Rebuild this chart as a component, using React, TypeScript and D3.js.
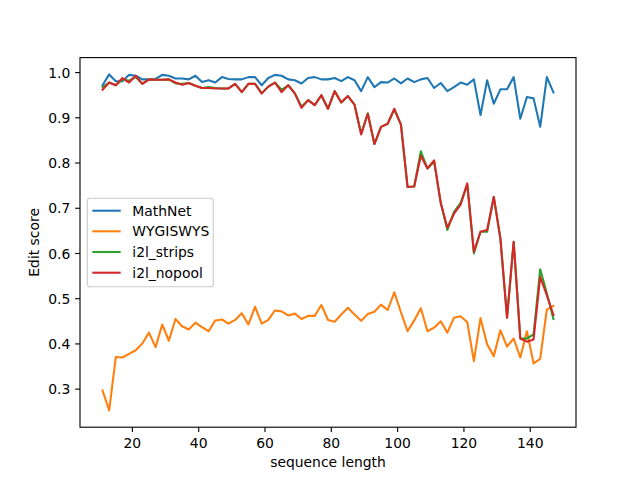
import React, { useEffect } from "react";
import * as d3 from "d3";

// sequence lengths (x)
const seqLen = [
  11, 13, 15, 17, 19, 21, 23, 25, 27, 29, 31, 33, 35, 37, 39, 41, 43, 45, 47,
  49, 51, 53, 55, 57, 59, 61, 63, 65, 67, 69, 71, 73, 75, 77, 79, 81, 83, 85,
  87, 89, 91, 93, 95, 97, 99, 101, 103, 105, 107, 109, 111, 113, 115, 117, 119,
  121, 123, 125, 127, 129, 131, 133, 135, 137, 139, 141, 143, 145, 147,
];

const mathNet = [
  0.972, 0.996, 0.981, 0.981, 0.995, 0.993, 0.985, 0.985, 0.986, 0.995, 0.993,
  0.987, 0.987, 0.985, 0.993, 0.979, 0.983, 0.978, 0.99, 0.986, 0.985, 0.985,
  0.99, 0.99, 0.972, 0.988, 0.995, 0.993, 0.985, 0.983, 0.976, 0.988, 0.99,
  0.985, 0.985, 0.988, 0.981, 0.99, 0.983, 0.959, 0.99, 0.968, 0.979, 0.978,
  0.987, 0.976, 0.987, 0.979, 0.985, 0.988, 0.966, 0.977, 0.959, 0.968, 0.978,
  0.973, 0.985, 0.906, 0.983, 0.931, 0.963, 0.963, 0.99, 0.898, 0.946, 0.943,
  0.88, 0.99, 0.956,
];

const wygiswys = [
  0.297, 0.253, 0.371, 0.37, 0.378, 0.386, 0.401, 0.425, 0.393, 0.443, 0.407,
  0.455, 0.439, 0.432, 0.447, 0.437, 0.428, 0.452, 0.454, 0.445, 0.453, 0.468,
  0.443, 0.482, 0.445, 0.453, 0.474, 0.472, 0.463, 0.467, 0.455, 0.462, 0.462,
  0.486, 0.453, 0.449, 0.465, 0.48, 0.465, 0.451, 0.466, 0.471, 0.487, 0.475,
  0.514, 0.47, 0.428, 0.452, 0.479, 0.428, 0.436, 0.45, 0.425, 0.458, 0.461,
  0.448, 0.362, 0.457, 0.399, 0.373, 0.43, 0.394, 0.412, 0.37, 0.428, 0.357,
  0.367, 0.476, 0.484,
];

const i2lStrips = [
  0.968, 0.978, 0.972, 0.985, 0.982, 0.99, 0.975, 0.985, 0.984, 0.984, 0.985,
  0.976, 0.975, 0.977, 0.971, 0.966, 0.968, 0.966, 0.965, 0.965, 0.975, 0.957,
  0.975, 0.975, 0.954, 0.969, 0.978, 0.962, 0.972, 0.954, 0.925, 0.939, 0.928,
  0.95, 0.92, 0.959, 0.934, 0.948, 0.929, 0.865, 0.91, 0.842, 0.88, 0.887,
  0.918, 0.885, 0.747, 0.748, 0.826, 0.788, 0.803, 0.712, 0.652, 0.692, 0.712,
  0.752, 0.6, 0.648, 0.648, 0.725, 0.633, 0.458, 0.626, 0.412, 0.412, 0.421,
  0.565, 0.512, 0.455,
];

const i2lNopool = [
  0.962, 0.978, 0.972, 0.988, 0.978, 0.993, 0.975, 0.985, 0.984, 0.984, 0.985,
  0.978, 0.973, 0.977, 0.971, 0.966, 0.966, 0.965, 0.965, 0.965, 0.975, 0.957,
  0.975, 0.975, 0.954, 0.969, 0.978, 0.957, 0.972, 0.954, 0.922, 0.939, 0.928,
  0.95, 0.92, 0.959, 0.934, 0.948, 0.929, 0.863, 0.909, 0.842, 0.88, 0.887,
  0.92, 0.885, 0.747, 0.748, 0.816, 0.788, 0.806, 0.712, 0.657, 0.688, 0.708,
  0.755, 0.604, 0.648, 0.652, 0.725, 0.633, 0.458, 0.626, 0.412, 0.405, 0.41,
  0.548, 0.508, 0.464,
];

const seriesNames = ["MathNet", "WYGISWYS", "i2l_strips", "i2l_nopool"];
const seriesColors = ["#1f77b4", "#ff7f0e", "#2ca02c", "#d62728"];
const xTicks = [20, 40, 60, 80, 100, 120, 140];
const yTicks = [0.3, 0.4, 0.5, 0.6, 0.7, 0.8, 0.9, 1.0];

const W = 640;
const H = 480;
const left = 80;
const right = 576;
const top = 57.6;
const bottom = 427.2;
const font = "'DejaVu Sans', sans-serif";
const fs = 13.9;
const lw = 2.08; // 1.5pt at 100 dpi

const padded = (lo: number, hi: number) => {
  const p = (hi - lo) * 0.05;
  return [lo - p, hi + p];
};

export default function App() {
  useEffect(() => {
    document.body.style.margin = "0";
  }, []);

  const all = [mathNet, wygiswys, i2lStrips, i2lNopool];
  const allVals = all.flat();
  const x = d3
    .scaleLinear()
    .domain(padded(d3.min(seqLen)!, d3.max(seqLen)!))
    .range([left, right]);
  const y = d3
    .scaleLinear()
    .domain(padded(d3.min(allVals)!, d3.max(allVals)!))
    .range([bottom, top]);

  const line = d3
    .line<number>()
    .x((_d, i) => x(seqLen[i]))
    .y((d) => y(d));

  const tick = 4.86;
  const pad = 4.86;

  // legend geometry
  const lgX = 87.3;
  const lgY = 198.3;
  const lgW = 126;
  const lgH = 88.4;
  const rowY = [210.7, 231.3, 252, 272.7];

  return (
    <svg width={W} height={H} style={{ display: "block", background: "#fff" }}>
      <g fill="none" strokeWidth={lw} strokeLinejoin="round" strokeLinecap="square">
        {all.map((s, k) => (
          <path key={k} d={line(s) || ""} stroke={seriesColors[k]} />
        ))}
      </g>

      <rect
        x={left}
        y={top}
        width={right - left}
        height={bottom - top}
        fill="none"
        stroke="#000"
        strokeWidth={1.11}
      />

      <g fontFamily={font} fontSize={fs} fill="#000">
        {xTicks.map((t) => (
          <g key={t}>
            <line x1={x(t)} x2={x(t)} y1={bottom} y2={bottom + tick} stroke="#000" strokeWidth={1.11} />
            <text x={x(t)} y={bottom + tick + pad + 10.6} textAnchor="middle">
              {t}
            </text>
          </g>
        ))}
        {yTicks.map((t) => (
          <g key={t}>
            <line x1={left - tick} x2={left} y1={y(t)} y2={y(t)} stroke="#000" strokeWidth={1.11} />
            <text x={left - tick - pad} y={y(t) + 5.1} textAnchor="end">
              {t.toFixed(1)}
            </text>
          </g>
        ))}
        <text x={(left + right) / 2} y={467} textAnchor="middle">
          sequence length
        </text>
        <text
          transform={`translate(39,${(top + bottom) / 2}) rotate(-90)`}
          textAnchor="middle"
        >
          Edit score
        </text>
      </g>

      <g fontFamily={font} fontSize={fs}>
        <rect
          x={lgX}
          y={lgY}
          width={lgW}
          height={lgH}
          rx={2.8}
          fill="#fff"
          fillOpacity={0.8}
          stroke="#cccccc"
          strokeWidth={1.11}
        />
        {seriesNames.map((n, k) => (
          <g key={n}>
            <line
              x1={92.3}
              x2={120.7}
              y1={rowY[k]}
              y2={rowY[k]}
              stroke={seriesColors[k]}
              strokeWidth={lw}
            />
            <text x={132.3} y={rowY[k] + 5.1} fill="#000">
              {n}
            </text>
          </g>
        ))}
      </g>
    </svg>
  );
}
